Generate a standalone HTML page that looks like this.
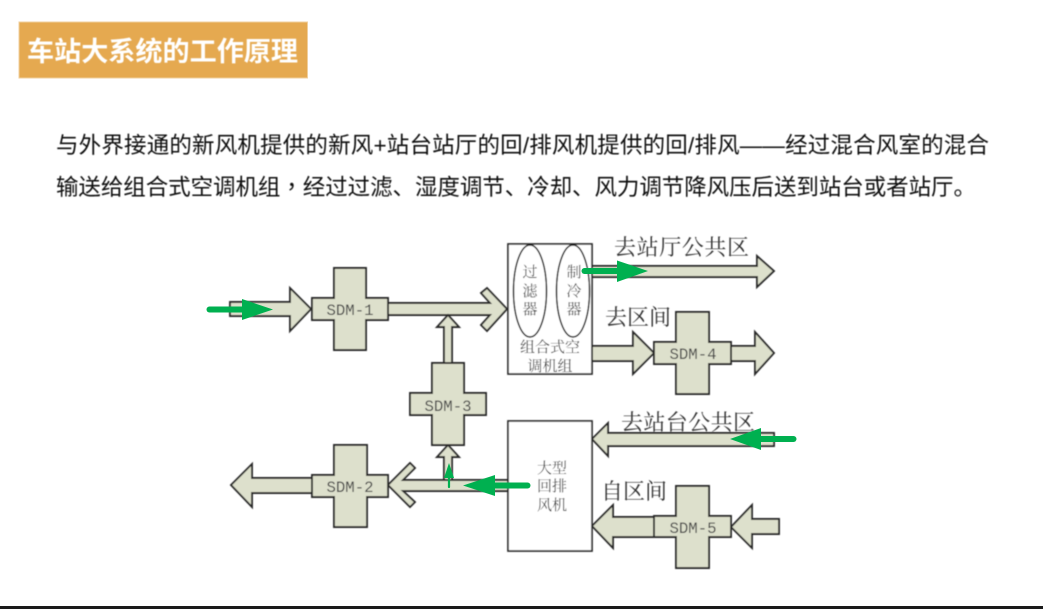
<!DOCTYPE html>
<html><head><meta charset="utf-8"><style>
html,body{margin:0;padding:0;background:#fff}
body{width:1043px;height:609px;overflow:hidden;position:relative}
svg{position:absolute;left:0;top:0}
</style></head><body>
<svg width="1043" height="609" viewBox="0 0 1043 609" xmlns="http://www.w3.org/2000/svg">
<defs><filter id="b" x="-5%" y="-5%" width="110%" height="110%"><feGaussianBlur stdDeviation="0.4"/></filter></defs>
<rect width="1043" height="609" fill="#fff"/>
<rect x="19" y="22" width="288.5" height="56" fill="#e5a950" stroke="#f0cf9c" stroke-width="1"/>
<text x="27" y="61" font-family="'Liberation Sans','Noto Sans CJK SC',sans-serif" font-size="27" font-weight="700" fill="#fff" textLength="271" lengthAdjust="spacingAndGlyphs" filter="url(#b)">车站大系统的工作原理</text>
<g font-family="'Liberation Sans','Noto Sans CJK SC',sans-serif" font-size="22.5" font-weight="400" fill="#111" filter="url(#b)">
<text x="56" y="153" textLength="933" lengthAdjust="spacing">与外界接通的新风机提供的新风+站台站厅的回/排风机提供的回/排风——经过混合风室的混合</text>
<text x="56" y="195" textLength="920" lengthAdjust="spacing">输送给组合式空调机组<tspan font-family="'Noto Sans CJK TC',sans-serif">，</tspan>经过过滤、湿度调节、冷却、风力调节降风压后送到站台或者站厅。</text>
</g>
<rect x="0" y="606" width="1043" height="3" fill="#1a1a1a"/>

<g filter="url(#b)">
<g fill="#dde0cc" stroke="#2a2a2a" stroke-width="1.9" stroke-linejoin="miter">
<polygon points="230,302 290,302 290,288 311,309 290,331 290,316 230,316"/>
<polygon points="388,303 490,303 481,293 487,288 507,309 487,331 481,325 490,315 388,315"/>
<polygon points="444,364 444,327 437,327 448,315 459,327 452,327 452,364"/>
<polygon points="444,480 444,457 437,457 448,445 459,457 452,457 452,480"/>
<polygon points="508,480 403,480 415,468 410,463 388,485 410,507 415,502 403,491 508,491"/>
<polygon points="312,478 252,478 252,464 231,485 252,507 252,493 312,493"/>
<polygon points="592,266 757,266 757,256 774,271 757,287 757,277 592,277"/>
<polygon points="592,346 633,346 633,332 654,353 633,374 633,361 592,361"/>
<polygon points="731,346 755,346 755,332 774,353 755,374 755,361 731,361"/>
<polygon points="774,433 608,433 608,423 592,439 608,456 608,446 774,446"/>
<polygon points="654,517 613,517 613,505 592,526 613,548 613,537 654,537"/>
<polygon points="779,519 752,519 752,505 731,527 752,548 752,534 779,534"/>
<polygon points="334,268 366,268 366,298 388,298 388,320 366,320 366,350 334,350 334,320 312,320 312,298 334,298"/>
<polygon points="432,363 464,363 464,393 486,393 486,415 464,415 464,445 432,445 432,415 410,415 410,393 432,393"/>
<polygon points="334,445 367,445 367,475 388,475 388,497 367,497 367,527 334,527 334,497 312,497 312,475 334,475"/>
<polygon points="676,312 709,312 709,342 731,342 731,364 709,364 709,394 676,394 676,364 654,364 654,342 676,342"/>
<polygon points="676,486 709,486 709,516 731,516 731,537 709,537 709,568 676,568 676,537 654,537 654,516 676,516"/>
</g>
<g fill="#fff" stroke="#2a2a2a" stroke-width="1.7">
<rect x="508" y="244" width="84" height="130"/>
<rect x="508" y="421" width="84" height="130"/>
</g>
<g fill="none" stroke="#111" stroke-width="1.5">
<ellipse cx="530" cy="291" rx="16.5" ry="46"/>
<ellipse cx="573" cy="291" rx="16.5" ry="46"/>
</g>

<g fill="#333" font-size="15" text-anchor="middle" font-family="'Liberation Serif','Noto Serif CJK SC',serif">
<text x="530" y="277">过</text><text x="530" y="296">滤</text><text x="530" y="314">器</text>
<text x="574" y="277">制</text><text x="574" y="296">冷</text><text x="574" y="314">器</text>
<text x="550" y="352">组合式空</text><text x="550" y="371">调机组</text>
<text x="552" y="473">大型</text><text x="552" y="491">回排</text><text x="552" y="510">风机</text>
</g>
<g fill="#444" font-size="15.7" text-anchor="middle" font-family="'Liberation Mono',monospace">
<text x="350" y="315">SDM-1</text>
<text x="448" y="411">SDM-3</text>
<text x="350" y="492">SDM-2</text>
<text x="693" y="359">SDM-4</text>
<text x="693" y="533">SDM-5</text>
</g>
<g fill="#333" font-size="22" font-family="'Liberation Serif','Noto Serif CJK SC',serif">
<text x="614" y="255" textLength="135">去站厅公共区</text>
<text x="605" y="325" textLength="66">去区间</text>
<text x="621" y="430" textLength="134">去站台公共区</text>
<text x="601" y="499" textLength="66">自区间</text>
</g>
</g>

<g fill="#00b050" stroke="#00b050" stroke-linecap="round">
<line x1="209.5" y1="309.5" x2="245" y2="309.5" stroke-width="6"/>
<polygon points="242,299 273,309.5 242,320" stroke="none"/>
<line x1="584.5" y1="271" x2="620" y2="271" stroke-width="6"/>
<polygon points="617,260.5 648,271 617,282" stroke="none"/>
<line x1="527.5" y1="485.5" x2="492" y2="485.5" stroke-width="6"/>
<polygon points="495,475 463,485.5 495,496" stroke="none"/>
<line x1="793.5" y1="439" x2="758" y2="439" stroke-width="6"/>
<polygon points="761,428 730,439 761,450" stroke="none"/>
<line x1="449" y1="487" x2="449" y2="476" stroke-width="2.2"/>
<polygon points="444,478 449,463 454,478" stroke="none"/>
</g>
</svg>
</body></html>
